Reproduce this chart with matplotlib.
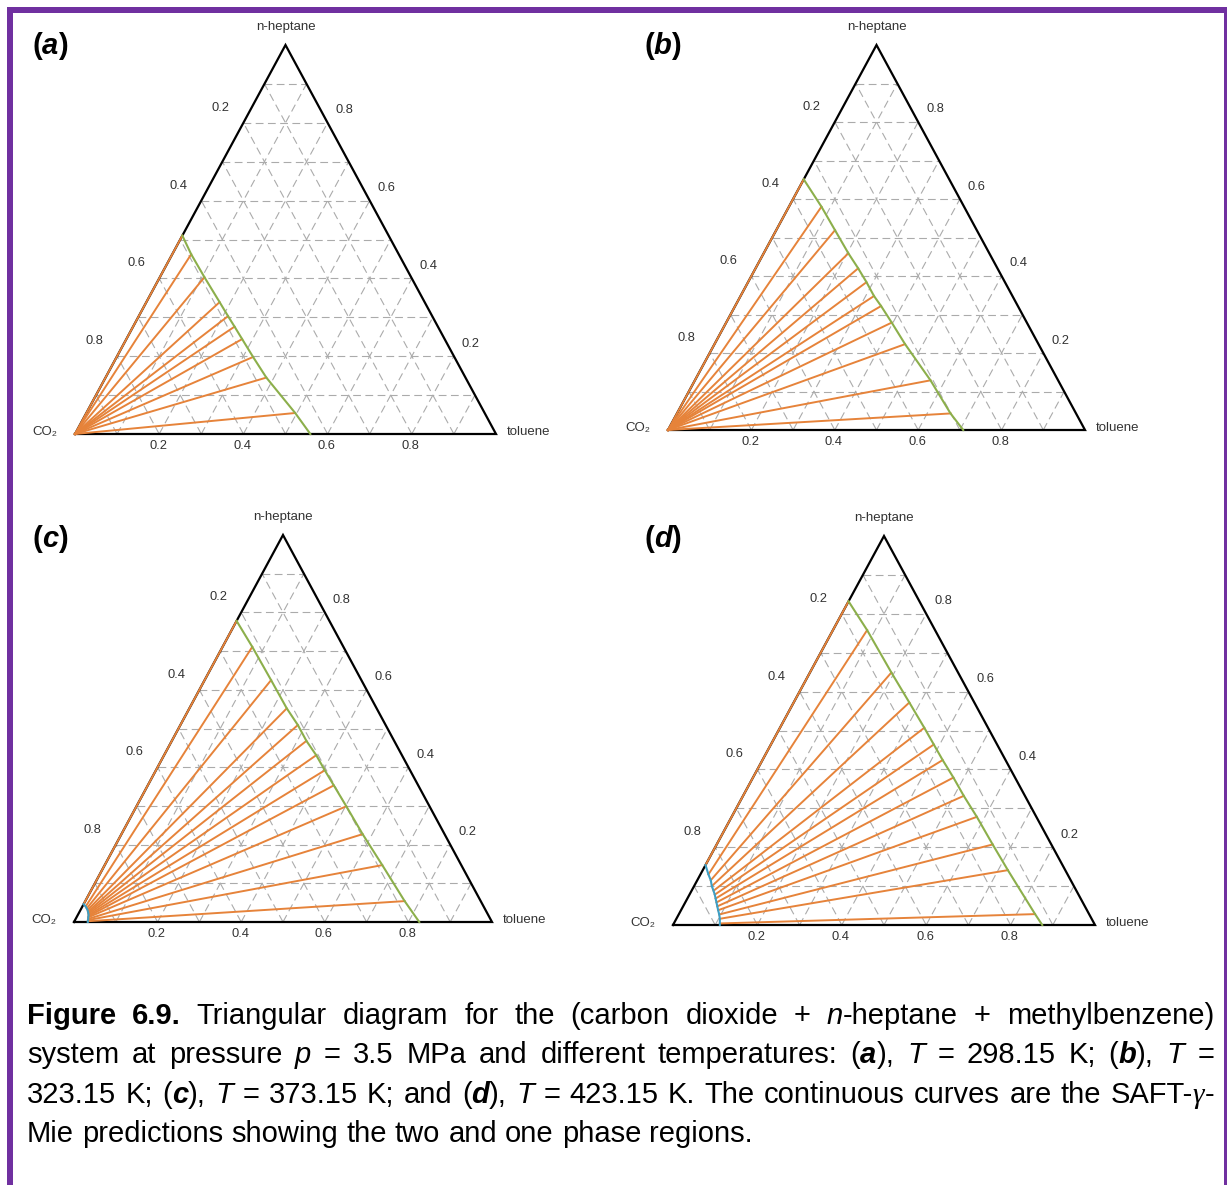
import re
import numpy as np
import matplotlib
matplotlib.use('Agg')
import matplotlib.pyplot as plt
from matplotlib.patches import Rectangle

FW, FH = 1227, 1185
plt.rcParams['font.family'] = ['Liberation Sans', 'DejaVu Sans']

# axis ticks (same on all three sides)
ticks = [0.2, 0.4, 0.6, 0.8]
tick_labels = ['0.2', '0.4', '0.6', '0.8']
vertex_names = ['CO\u2082', 'toluene', 'n-heptane']

# tie lines: liquid end (green curve) and vapour end, as (toluene, n-heptane) mole fractions
liq_tol_a = [0.0, 0.045, 0.106, 0.174, 0.212, 0.241, 0.275, 0.324, 0.382, 0.496]
liq_hep_a = [0.510, 0.462, 0.403, 0.339, 0.303, 0.276, 0.244, 0.198, 0.145, 0.054]
vap_tol_a = [0.0, 0.0, 0.0, 0.0, 0.0, 0.0, 0.0, 0.0, 0.0, 0.0]
vap_hep_a = [0.0, 0.0, 0.0, 0.0, 0.0, 0.0, 0.0, 0.0, 0.0, 0.0]
green_end_a = 0.559

liq_tol_b = [0.0, 0.078, 0.141, 0.203, 0.246, 0.284, 0.320, 0.350, 0.397, 0.457, 0.565, 0.656]
liq_hep_b = [0.651, 0.580, 0.519, 0.459, 0.420, 0.384, 0.348, 0.322, 0.279, 0.223, 0.129, 0.043]
vap_tol_b = [0.0, 0.0, 0.0, 0.0, 0.0, 0.0, 0.0, 0.0, 0.0, 0.0, 0.0, 0.0]
vap_hep_b = [0.0, 0.0, 0.0, 0.0, 0.0, 0.0, 0.0, 0.0, 0.0, 0.0, 0.0, 0.0]
green_end_b = 0.708

liq_tol_c = [0.0, 0.071, 0.159, 0.233, 0.281, 0.322, 0.364, 0.404, 0.445, 0.502, 0.577, 0.664, 0.764]
liq_hep_c = [0.778, 0.711, 0.625, 0.552, 0.509, 0.468, 0.431, 0.392, 0.353, 0.299, 0.227, 0.147, 0.054]
vap_tol_c = [0.0, 0.008, 0.013, 0.017, 0.020, 0.022, 0.024, 0.026, 0.027, 0.028, 0.030, 0.031, 0.032]
vap_hep_c = [0.046, 0.040, 0.035, 0.031, 0.027, 0.024, 0.021, 0.018, 0.015, 0.012, 0.008, 0.005, 0.002]
green_end_c = 0.826
blue_end_c = 0.033

liq_tol_d = [0.0, 0.081, 0.193, 0.274, 0.342, 0.386, 0.427, 0.475, 0.523, 0.581, 0.654, 0.723, 0.844]
liq_hep_d = [0.832, 0.758, 0.649, 0.572, 0.507, 0.464, 0.424, 0.379, 0.332, 0.278, 0.207, 0.141, 0.028]
vap_tol_d = [0.0, 0.019, 0.032, 0.042, 0.052, 0.060, 0.067, 0.074, 0.081, 0.088, 0.096, 0.103, 0.109]
vap_hep_d = [0.154, 0.130, 0.115, 0.100, 0.088, 0.078, 0.068, 0.058, 0.048, 0.038, 0.027, 0.016, 0.004]
green_end_d = 0.875
blue_end_d = 0.111

caption = [
    "{b|Figure} {b|6.9.} Triangular diagram for the (carbon dioxide + {i|n}-heptane + methylbenzene)",
    "system at pressure {i|p} = 3.5 MPa and different temperatures: ({bi|a}), {i|T} = 298.15 K; ({bi|b}), {i|T} =",
    "323.15 K; ({bi|c}), {i|T} = 373.15 K; and ({bi|d}), {i|T} = 423.15 K. The continuous curves are the SAFT-{g|\u03b3}-",
    "Mie predictions showing the two and one phase regions.",
]

ORANGE = '#E6833A'
GREEN = '#8CAF4B'
BLUE = '#3C9FC6'
GRID = '#ababab'
PURPLE = '#7030A0'
TXT = '#333333'

STYLE = {
    'n': {},
    'b': dict(fontweight='bold'),
    'i': dict(fontstyle='italic'),
    'bi': dict(fontweight='bold', fontstyle='italic'),
    'g': dict(fontstyle='italic', family=['Liberation Serif', 'DejaVu Serif']),
}

fig = plt.figure(figsize=(FW / 100, FH / 100), dpi=100)
renderer = fig.canvas.get_renderer()


def fx(x):
    return x / FW


def fy(y):
    return 1 - y / FH


def tern(tol, hep):
    tol = np.asarray(tol, dtype=float)
    hep = np.asarray(hep, dtype=float)
    return tol + hep / 2, hep


# purple page frame
for x0, y0, x1, y1 in [(7, 7, 1227, 12.5), (7, 7, 13, 1185), (1223.5, 7, 1226.5, 1185)]:
    fig.add_artist(Rectangle((fx(x0), fy(y1)), (x1 - x0) / FW, (y1 - y0) / FH,
                             transform=fig.transFigure, color=PURPLE, lw=0))


def parse_word(w):
    out, pos = [], 0
    for m in re.finditer(r'\{(\w+)\|([^}]*)\}', w):
        if m.start() > pos:
            out.append((w[pos:m.start()], 'n'))
        out.append((m.group(2), m.group(1)))
        pos = m.end()
    if pos < len(w):
        out.append((w[pos:], 'n'))
    return out


def text_width(s, size, **kw):
    t = fig.text(0, 0, s, fontsize=size, **kw)
    w = t.get_window_extent(renderer).width
    t.remove()
    return w


def rich_line(line, x_left, baseline, size, x_right=None, color='black'):
    words = [parse_word(w) for w in line.split(' ')]
    placed = []
    for word in words:
        pieces = []
        for s, st in word:
            t = fig.text(0, 0, s, fontsize=size, va='baseline', ha='left', color=color, **STYLE[st])
            pieces.append((t, t.get_window_extent(renderer).width))
        placed.append(pieces)
    widths = [sum(w for _, w in p) for p in placed]
    if x_right is None or len(words) < 2:
        gap = text_width('a a', size) - text_width('aa', size)
    else:
        gap = (x_right - x_left - sum(widths)) / (len(words) - 1)
    x = x_left
    for pieces, ww in zip(placed, widths):
        xx = x
        for t, w in pieces:
            t.set_position((fx(xx), fy(baseline)))
            xx += w
        x += ww + gap


def draw_panel(box, liq_tol, liq_hep, vap_tol, vap_hep, green_end, blue_end=None):
    x0, ybase, w, h = box
    ax = fig.add_axes([fx(x0), fy(ybase), w / FW, h / FH])
    ax.set_xlim(0, 1)
    ax.set_ylim(0, 1)
    ax.axis('off')

    # dashed grid every 0.1 in all three directions
    for k in range(1, 10):
        v = k / 10
        for (t0, h0), (t1, h1) in [((0, v), (1 - v, v)), ((v, 0), (v, 1 - v)), ((1 - v, 0), (0, 1 - v))]:
            X, Y = tern([t0, t1], [h0, h1])
            ax.plot(X, Y, color=GRID, lw=0.8, dashes=(7, 4), clip_on=False)

    X, Y = tern([0, 1, 0, 0], [0, 0, 1, 0])
    ax.plot(X, Y, color='black', lw=1.6, clip_on=False, solid_joinstyle='miter')

    for i in range(len(liq_tol)):
        X, Y = tern([vap_tol[i], liq_tol[i]], [vap_hep[i], liq_hep[i]])
        ax.plot(X, Y, color=ORANGE, lw=1.4, clip_on=False)

    X, Y = tern(list(liq_tol) + [green_end], list(liq_hep) + [0.0])
    ax.plot(X, Y, color=GREEN, lw=1.5, clip_on=False)
    if blue_end is not None:
        X, Y = tern(list(vap_tol) + [blue_end], list(vap_hep) + [0.0])
        ax.plot(X, Y, color=BLUE, lw=1.5, clip_on=False)

    p = 0.72  # px -> pt
    for v, lab in zip(ticks, tick_labels):
        # left side: CO2 fraction
        X, Y = tern([0.0], [1 - v])
        ax.annotate(lab, (X[0], Y[0]), xytext=(-23 * p, 15 * p), textcoords='offset points',
                    ha='center', va='center', fontsize=9.3, color=TXT)
        # right side: n-heptane fraction
        X, Y = tern([1 - v], [v])
        ax.annotate(lab, (X[0], Y[0]), xytext=(17 * p, 12.5 * p), textcoords='offset points',
                    ha='center', va='center', fontsize=9.3, color=TXT)
        # bottom: toluene fraction
        X, Y = tern([v], [0.0])
        ax.annotate(lab, (X[0], Y[0]), xytext=(-1 * p, -12 * p), textcoords='offset points',
                    ha='center', va='center', fontsize=9.3, color=TXT)

    ax.annotate(vertex_names[0], (0, 0), xytext=(-30 * p, 2 * p), textcoords='offset points',
                ha='center', va='center', fontsize=9.5, color=TXT)
    ax.annotate(vertex_names[1], (1, 0), xytext=(11 * p, 2 * p), textcoords='offset points',
                ha='left', va='center', fontsize=9.5, color=TXT)
    ax.annotate(vertex_names[2], (0.5, 1), xytext=(0, 18 * p), textcoords='offset points',
                ha='center', va='center', fontsize=9.5, color=TXT)


draw_panel((75, 434, 421, 389), liq_tol_a, liq_hep_a, vap_tol_a, vap_hep_a, green_end_a)
draw_panel((668, 430, 417, 385), liq_tol_b, liq_hep_b, vap_tol_b, vap_hep_b, green_end_b)
draw_panel((74, 922, 418, 387), liq_tol_c, liq_hep_c, vap_tol_c, vap_hep_c, green_end_c, blue_end_c)
draw_panel((673, 925, 422, 389), liq_tol_d, liq_hep_d, vap_tol_d, vap_hep_d, green_end_d, blue_end_d)

# panel letters
for name, (lx, ly) in zip(['a', 'b', 'c', 'd'], [(32, 54), (644, 54), (32, 547), (644, 547)]):
    rich_line('{b|(}{bi|' + name + '}{b|)}', lx, ly, 21)

# justified caption
for i, line in enumerate(caption):
    right = 1214 if i < len(caption) - 1 else None
    rich_line(line, 27, 1024 + 39.3 * i, 21, x_right=right)

fig.savefig('out.png', dpi=100)
